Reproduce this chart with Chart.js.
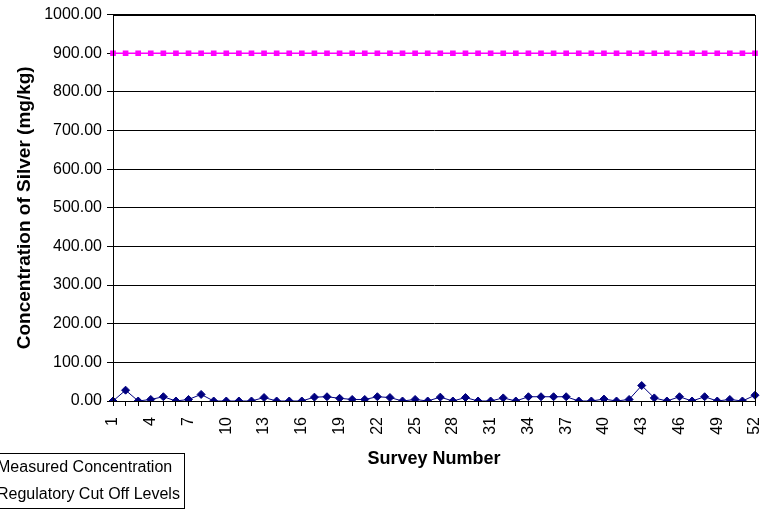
<!DOCTYPE html>
<html>
<head>
<meta charset="utf-8">
<script src="https://cdn.jsdelivr.net/npm/chart.js"></script>
<style>
  html, body { margin: 0; padding: 0; background: #fff; }
  #wrap { width: 773px; height: 510px; }
</style>
</head>
<body>
<div id="wrap"><canvas id="myChart" width="773" height="510"></canvas></div>
<script>
// survey numbers along the x axis
const surveyNumbers = [
  '1','2','3','4','5','6','7','8','9','10','11','12','13','14','15','16','17','18','19','20',
  '21','22','23','24','25','26','27','28','29','30','31','32','33','34','35','36','37','38','39','40',
  '41','42','43','44','45','46','47','48','49','50','51','52'
];

// measured silver concentration (mg/kg)
const measured = [
  0, 28, 0, 4, 11, 0, 4, 17, 0, 0, 0, 0, 9, 0, 0, 0, 10, 11, 7, 4,
  4, 11, 9, 0, 4, 0, 10, 0, 9, 0, 0, 8, 0, 11, 11, 11, 11, 0, 0, 5,
  0, 4, 40, 8, 0, 11, 0, 11, 0, 4, 0, 15
];

// regulatory cut off level (mg/kg)
const cutOff = [
  900, 900, 900, 900, 900, 900, 900, 900, 900, 900, 900, 900, 900, 900, 900, 900, 900, 900, 900, 900,
  900, 900, 900, 900, 900, 900, 900, 900, 900, 900, 900, 900, 900, 900, 900, 900, 900, 900, 900, 900,
  900, 900, 900, 900, 900, 900, 900, 900, 900, 900, 900, 900
];

const seriesNames = ['Measured Concentration', 'Regulatory Cut Off Levels'];

const FONT = 'Arial, "Liberation Sans", sans-serif';

// box round the plot area (top and right edges)
const frame = {
  id: 'frame',
  afterDatasetsDraw(chart) {
    const a = chart.chartArea;
    const ctx = chart.ctx;
    ctx.save();
    ctx.strokeStyle = '#000';
    ctx.lineWidth = 1;
    ctx.strokeRect(Math.round(a.left) + 0.5, Math.round(a.top) + 0.5,
                   Math.round(a.right - a.left), Math.round(a.bottom - a.top));
    ctx.restore();
  }
};

// legend box in the lower left, partly cut off like the original
const oldLegend = {
  id: 'oldLegend',
  afterDraw(chart) {
    const ctx = chart.ctx;
    ctx.save();
    ctx.strokeStyle = '#000';
    ctx.lineWidth = 1;
    ctx.strokeRect(-10.5, 453.5, 195, 55);
    ctx.fillStyle = '#000';
    ctx.font = '16px ' + FONT;
    ctx.textBaseline = 'middle';
    ctx.textAlign = 'left';
    chart.data.datasets.forEach((ds, i) => {
      ctx.fillText(ds.label, -3, 468 + i * 27);
    });
    ctx.restore();
  }
};

new Chart(document.getElementById('myChart'), {
  type: 'line',
  data: {
    labels: surveyNumbers,
    datasets: [{
      label: seriesNames[0],
      data: measured,
      borderColor: '#000080',
      backgroundColor: '#000080',
      borderWidth: 1,
      pointStyle: 'rectRot',
      pointRadius: 4,
      pointBorderWidth: 1,
      tension: 0
    }, {
      label: seriesNames[1],
      data: cutOff,
      borderColor: '#FF00FF',
      backgroundColor: '#FF00FF',
      borderWidth: 1.5,
      pointStyle: 'rect',
      pointRadius: 4,
      pointBorderWidth: 0,
      tension: 0
    }]
  },
  options: {
    responsive: false,
    animation: false,
    layout: { padding: { top: 14, right: 18, left: 0, bottom: 0 } },
    plugins: {
      legend: { display: false },
      tooltip: { enabled: false }
    },
    scales: {
      x: {
        offset: false,
        grid: { display: true, drawOnChartArea: false, color: '#000', tickLength: 5 },
        border: { display: true, color: '#000' },
        ticks: {
          autoSkip: false,
          minRotation: 90,
          maxRotation: 90,
          padding: 11,
          color: '#000',
          font: { family: FONT, size: 16 },
          callback: function (val, idx) {
            return idx % 3 === 0 ? this.getLabelForValue(val) : '';
          }
        },
        title: {
          display: true,
          text: 'Survey Number',
          color: '#000',
          font: { family: FONT, size: 18, weight: 'bold' },
          padding: { top: 40, bottom: 40 }
        },
        afterFit(scale) {
          scale.height = 109;
          scale.paddingRight = 0;
          scale.paddingLeft = 0;
        }
      },
      y: {
        min: 0,
        max: 1000,
        grid: { color: '#000', tickLength: 6 },
        border: { display: true, color: '#000' },
        ticks: {
          stepSize: 100,
          padding: 5,
          color: '#000',
          font: { family: FONT, size: 16 },
          callback: (v) => v.toFixed(2)
        },
        title: {
          display: true,
          text: 'Concentration of Silver (mg/kg)',
          color: '#000',
          font: { family: FONT, size: 19, weight: 'bold' },
          padding: { top: 13, bottom: 13 }
        },
        afterFit(scale) { scale.width = 113; }
      }
    }
  },
  plugins: [frame, oldLegend]
});
</script>
</body>
</html>
